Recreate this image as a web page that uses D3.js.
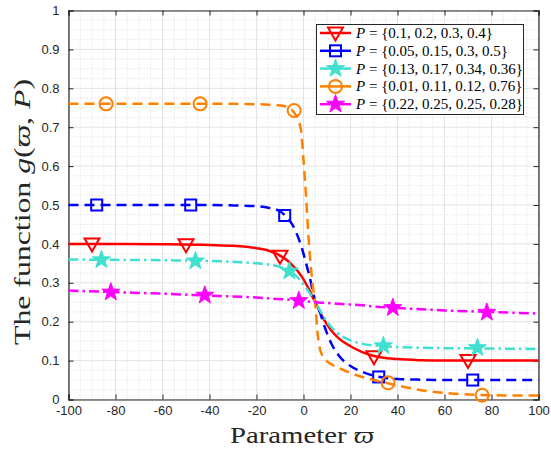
<!DOCTYPE html>
<html>
<head>
<meta charset="utf-8">
<title>g(varpi, P)</title>
<script src="https://d3js.org/d3.v7.min.js"></script>
<style>
    body { margin: 0; background: #fff; }
    .tick-label { font-family: "Liberation Sans", Arial, sans-serif; font-size: 13px; fill: #262626; }
    .math { font-family: "Liberation Serif", "DejaVu Serif", serif; }
</style>
</head>
<body>
<div id="chart"></div>
<script>
    // sample points on the parameter axis
    var xs = [-100,-80,-60,-40,-30,-20,-15,-10,-7,-5,-3,-1,0,1,2,3,4,5,6,7,8,10,12,15,20,25,30,40,50,60,80,100];

    var redVals = [0.400,0.400,0.399,0.397,0.395,0.389,0.383,0.370,0.358,0.347,0.334,0.318,0.309,0.298,0.287,0.275,0.262,0.250,0.238,0.225,0.213,0.193,0.176,0.157,0.137,0.122,0.112,0.104,0.101,0.100,0.100,0.100];
    var blueVals = [0.500,0.500,0.500,0.500,0.499,0.497,0.493,0.484,0.468,0.452,0.428,0.395,0.375,0.352,0.330,0.305,0.278,0.252,0.238,0.225,0.205,0.170,0.142,0.113,0.086,0.071,0.061,0.053,0.051,0.050,0.050,0.050];
    var cyanVals = [0.360,0.359,0.358,0.356,0.354,0.350,0.347,0.341,0.334,0.327,0.317,0.303,0.296,0.288,0.279,0.270,0.260,0.250,0.240,0.229,0.219,0.200,0.185,0.168,0.152,0.143,0.139,0.135,0.133,0.132,0.131,0.130];
    var orangeVals = [0.760,0.760,0.760,0.760,0.760,0.759,0.758,0.756,0.752,0.745,0.728,0.690,0.615,0.530,0.430,0.350,0.290,0.245,0.170,0.130,0.113,0.098,0.090,0.081,0.068,0.058,0.050,0.036,0.024,0.017,0.011,0.010];
    var magentaVals = [0.280,0.276,0.272,0.267,0.265,0.262,0.260,0.258,0.257,0.256,0.255,0.254,0.253,0.253,0.252,0.251,0.251,0.250,0.250,0.249,0.249,0.248,0.247,0.246,0.244,0.242,0.239,0.235,0.232,0.229,0.225,0.221];

    // marker positions
    var redMarkX = [-90,-50,-10,30,70],     redMarkY = [0.400,0.398,0.368,0.110,0.100];
    var blueMarkX = [-88,-48,-8,32,72],     blueMarkY = [0.500,0.500,0.473,0.058,0.050];
    var cyanMarkX = [-86,-46,-6,34,74],     cyanMarkY = [0.359,0.356,0.330,0.138,0.133];
    var orangeMarkX = [-84,-44,-4,36,76],   orangeMarkY = [0.760,0.760,0.743,0.043,0.011];
    var magentaMarkX = [-82,-42,-2,38,78],  magentaMarkY = [0.276,0.268,0.254,0.236,0.224];

    var legendLabels = ["{0.1, 0.2, 0.3, 0.4}", "{0.05, 0.15, 0.3, 0.5}", "{0.13, 0.17, 0.34, 0.36}", "{0.01, 0.11, 0.12, 0.76}", "{0.22, 0.25, 0.25, 0.28}"];
    var xTicks = [-100,-80,-60,-40,-20,0,20,40,60,80,100];
    var yTicks = [0,0.1,0.2,0.3,0.4,0.5,0.6,0.7,0.8,0.9,1];

    var series = [
        { vals: redVals, mx: redMarkX, my: redMarkY, color: "#ff0000", dash: null, marker: "tri" },
        { vals: blueVals, mx: blueMarkX, my: blueMarkY, color: "#0000ff", dash: "10,6", marker: "square" },
        { vals: cyanVals, mx: cyanMarkX, my: cyanMarkY, color: "#40e0d0", dash: "10,4,2.5,4", marker: "star" },
        { vals: orangeVals, mx: orangeMarkX, my: orangeMarkY, color: "#ff8000", dash: "10,6", marker: "circle" },
        { vals: magentaVals, mx: magentaMarkX, my: magentaMarkY, color: "#ff00ff", dash: "10,4,2.5,4", marker: "star" }
    ];

    var width = 551, height = 451;
    var pLeft = 68.5, pRight = 538.5, pTop = 10.5, pBottom = 399.5;

    var svg = d3.select("#chart").append("svg")
        .attr("width", width)
        .attr("height", height);

    var x = d3.scaleLinear().domain([-100, 100]).range([pLeft, pRight]);
    var y = d3.scaleLinear().domain([0, 1]).range([pBottom, pTop]);

    // grid
    var grid = svg.append("g");
    grid.selectAll("line.minx")
        .data(d3.range(-100, 101, 5).filter(function(d) { return d % 20 != 0; }))
        .enter().append("line")
        .attr("x1", x).attr("x2", x).attr("y1", pTop).attr("y2", pBottom)
        .style("stroke", "#d0d0d0").style("stroke-dasharray", "1,2").style("stroke-width", 0.8);
    grid.selectAll("line.miny")
        .data(d3.range(0, 40).map(function(i) { return i * 0.025; }).filter(function(d, i) { return i % 4 != 0; }))
        .enter().append("line")
        .attr("y1", y).attr("y2", y).attr("x1", pLeft).attr("x2", pRight)
        .style("stroke", "#d0d0d0").style("stroke-dasharray", "1,2").style("stroke-width", 0.8);
    grid.selectAll("line.majx")
        .data(xTicks)
        .enter().append("line")
        .attr("x1", x).attr("x2", x).attr("y1", pTop).attr("y2", pBottom)
        .style("stroke", "#e3e3e3").style("stroke-width", 1);
    grid.selectAll("line.majy")
        .data(yTicks)
        .enter().append("line")
        .attr("y1", y).attr("y2", y).attr("x1", pLeft).attr("x2", pRight)
        .style("stroke", "#e3e3e3").style("stroke-width", 1);

    // axes (inward ticks, box)
    var axB = svg.append("g").attr("transform", "translate(0," + pBottom + ")")
        .call(d3.axisBottom(x).tickValues(xTicks).tickSize(-5).tickPadding(9).tickFormat(function(d) { return String(d); }));
    var axT = svg.append("g").attr("transform", "translate(0," + pTop + ")")
        .call(d3.axisTop(x).tickValues(xTicks).tickSize(-5).tickFormat(""));
    var axL = svg.append("g").attr("transform", "translate(" + pLeft + ",0)")
        .call(d3.axisLeft(y).tickValues(yTicks).tickSize(-5).tickPadding(9).tickFormat(function(d) { return d === 0 || d === 1 ? String(d) : d3.format(".1f")(d); }));
    var axR = svg.append("g").attr("transform", "translate(" + pRight + ",0)")
        .call(d3.axisRight(y).tickValues(yTicks).tickSize(-5).tickFormat(""));
    [axB, axT, axL, axR].forEach(function(a) {
        a.selectAll("path.domain").style("stroke", "#262626").style("stroke-width", 1.2);
        a.selectAll(".tick line").style("stroke", "#262626");
        a.selectAll(".tick text").attr("class", "tick-label").style("font-size", "13px");
    });
    axB.selectAll(".tick text").attr("dy", "0.5em");

    // curves
    var line = d3.line()
        .x(function(d) { return x(d[0]); })
        .y(function(d) { return y(d[1]); })
        .curve(d3.curveMonotoneX);

    var starPath = function(R) {
        var pts = [];
        for (var i = 0; i < 10; i++) {
            var r = i % 2 == 0 ? R : R * 0.4;
            var a = -Math.PI / 2 + i * Math.PI / 5;
            pts.push([r * Math.cos(a), r * Math.sin(a)]);
        }
        return "M" + pts.join("L") + "Z";
    };

    function drawMarker(g, type, color, cx, cy) {
        if (type == "tri") {
            g.append("path").attr("d", "M-7.5,-5.5L7.5,-5.5L0,7.5Z")
                .attr("transform", "translate(" + cx + "," + cy + ")")
                .style("fill", "none").style("stroke", color).style("stroke-width", 2);
        } else if (type == "square") {
            g.append("rect").attr("x", cx - 5.5).attr("y", cy - 5.5).attr("width", 11).attr("height", 11)
                .style("fill", "none").style("stroke", color).style("stroke-width", 2);
        } else if (type == "circle") {
            g.append("circle").attr("cx", cx).attr("cy", cy).attr("r", 6.5)
                .style("fill", "none").style("stroke", color).style("stroke-width", 2);
        } else {
            g.append("path").attr("d", starPath(9.5))
                .attr("transform", "translate(" + cx + "," + cy + ")")
                .style("fill", color).style("stroke", color).style("stroke-width", 1);
        }
    }

    var plot = svg.append("g");
    series.forEach(function(s) {
        var pts = xs.map(function(v, i) { return [v, s.vals[i]]; });
        plot.append("path")
            .attr("d", line(pts))
            .style("fill", "none")
            .style("stroke", s.color)
            .style("stroke-width", 2.5)
            .style("stroke-dasharray", s.dash);
        s.mx.forEach(function(v, i) {
            drawMarker(plot, s.marker, s.color, x(v), y(s.my[i]));
        });
    });

    // legend
    var lg = svg.append("g");
    lg.append("rect").attr("x", 316.5).attr("y", 24.5).attr("width", 207).attr("height", 90)
        .style("fill", "#fff").style("stroke", "#262626").style("stroke-width", 1);
    series.forEach(function(s, i) {
        var ly = 33 + i * 17.8;
        lg.append("line").attr("x1", 320).attr("x2", 351).attr("y1", ly).attr("y2", ly)
            .style("stroke", s.color).style("stroke-width", 2.5);
        drawMarker(lg, s.marker, s.color, 335.5, ly);
        var t = lg.append("text").attr("class", "math").attr("x", 356).attr("y", ly + 5)
            .style("font-size", "15px").style("fill", "#000");
        t.append("tspan").style("font-style", "italic").text("P");
        t.append("tspan").text(" = " + legendLabels[i]);
    });

    // axis titles
    svg.append("text").attr("class", "math")
        .attr("x", 230).attr("y", 443)
        .attr("textLength", 144).attr("lengthAdjust", "spacingAndGlyphs")
        .style("font-size", "24px").style("fill", "#262626")
        .text("Parameter ")
        .append("tspan").style("font-style", "italic").text("ϖ");

    var yl = svg.append("text").attr("class", "math")
        .attr("transform", "translate(30,345) rotate(-90)")
        .attr("textLength", 266).attr("lengthAdjust", "spacingAndGlyphs")
        .style("font-size", "24px").style("fill", "#262626");
    yl.append("tspan").text("The function ");
    yl.append("tspan").style("font-style", "italic").text("g");
    yl.append("tspan").text("(");
    yl.append("tspan").style("font-style", "italic").text("ϖ");
    yl.append("tspan").text(", ");
    yl.append("tspan").style("font-style", "italic").text("P");
    yl.append("tspan").text(")");
</script>
</body>
</html>
